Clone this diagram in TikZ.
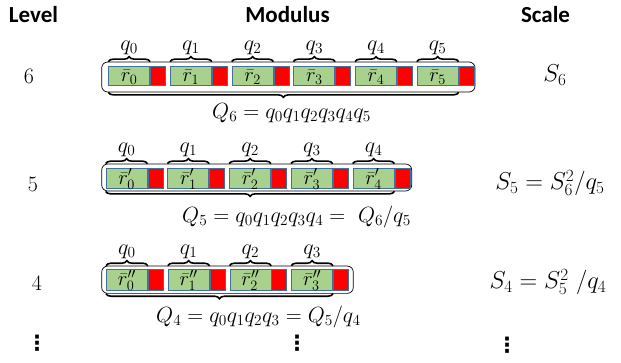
\RequirePackage{fix-cm}
\documentclass[tikz,border=0pt]{standalone}
\usepackage{fontspec}
\newfontfamily\hdrfont{Carlito}
\newfontfamily\symfont{DejaVu Sans}
\usetikzlibrary{decorations.pathreplacing,calc}
\definecolor{cellgreen}{HTML}{A9D18E}
\definecolor{cellblue}{HTML}{41719C}
\definecolor{cellred}{HTML}{FF0000}
\newcommand\dgmfont{\fontsize{22}{26}\selectfont}
\newcommand\cellfnt{\fontsize{20.5}{24}\selectfont}
\newcommand\scalefnt{\fontsize{24.5}{28}\selectfont}
\tikzset{
  greencell/.style={draw=cellblue, line width=0.8pt, fill=cellgreen, minimum width=41pt, inner sep=0pt, anchor=west},
  redcell/.style={draw=cellblue, line width=0.8pt, fill=cellred, minimum width=15pt, inner sep=0pt, anchor=west},
  outerbox/.style={draw=black, line width=0.7pt, rounded corners=6pt, inner sep=0pt},
  bracestyle/.style={decorate, decoration={brace, amplitude=5pt}, line width=1.6pt},
  qlabel/.style={font=\dgmfont, inner sep=0pt, anchor=south},
  celltext/.style={font=\cellfnt, inner sep=0pt},
  mathtext/.style={font=\dgmfont, inner sep=0pt},
  scaletext/.style={font=\scalefnt, inner sep=0pt},
  header/.style={font=\hdrfont\bfseries\fontsize{23}{27}\selectfont, inner sep=0pt},
  dotstack/.style={font=\symfont\bfseries\fontsize{21}{25}\selectfont, inner sep=0pt}
}
\begin{document}
\begin{tikzpicture}[x=1pt,y=-1pt]
\useasboundingbox (0,0) rectangle (621,362);

% headers
\node[header] (hlevel) at (33.5,15) {Level};
\node[header] (hmod) at (287.5,15) {Modulus};
\node[header] (hscale) at (545.5,15) {Scale};

% ---------- level 6 ----------
\node[outerbox, minimum width=373.3pt, minimum height=30pt] (o6) at (288.35,77) {};
\foreach \k in {0,...,5}{
  \node[greencell, minimum height=19pt] (g6\k) at ({108.3+61.7*\k},76) {};
  \node[redcell, minimum height=19pt] (r6\k) at (g6\k.east) {};
  \node[celltext] (t6\k) at ($(g6\k)+(0,1)$) {$\bar{r}_{\k}$};
  \draw[bracestyle] (g6\k.west |- o6.north) -- (g6\k.east |- o6.north);
  \node[qlabel] (q6\k) at ($(g6\k.north |- o6.north)+(0,-7)$) {$q_{\k}$};
}
\draw[bracestyle] (g65.east |- o6.south) -- (g60.west |- o6.south);
\node[mathtext, anchor=west] (Q6) at (212,113) {$Q_6 = q_0q_1q_2q_3q_4q_5$};
\node[mathtext] (l6) at (29,76) {$6$};
\node[scaletext] (s6) at (555,75) {$S_6$};

% ---------- level 5 ----------
\node[outerbox, minimum width=310pt, minimum height=27pt] (o5) at (256.7,177.5) {};
\foreach \k in {0,...,4}{
  \node[greencell, minimum height=20pt] (g5\k) at ({105.7+61.75*\k},178) {};
  \node[redcell, minimum height=20pt] (r5\k) at (g5\k.east) {};
  \node[celltext] (t5\k) at ($(g5\k)+(0,1)$) {$\bar{r}'_{\k}$};
  \draw[bracestyle] (g5\k.west |- o5.north) -- (g5\k.east |- o5.north);
  \node[qlabel] (q5\k) at ($(g5\k.north |- o5.north)+(0,-7)$) {$q_{\k}$};
}
\draw[bracestyle] (g54.east |- o5.south) -- (g50.west |- o5.south);
\node[mathtext, anchor=west] (Q5) at (182,217) {$Q_5 = q_0q_1q_2q_3q_4 =\ Q_6/q_5$};
\node[mathtext] (l5) at (33,184) {$5$};
\node[scaletext] (s5) at (550,183) {$S_5 = S_6^2/q_5$};

% ---------- level 4 ----------
\node[outerbox, minimum width=251.6pt, minimum height=27.3pt] (o4) at (227.5,279.7) {};
\foreach \k in {0,...,3}{
  \node[greencell, minimum height=20.5pt] (g4\k) at ({106+61.75*\k},279.7) {};
  \node[redcell, minimum height=20.5pt] (r4\k) at (g4\k.east) {};
  \node[celltext] (t4\k) at ($(g4\k)+(0,1)$) {$\bar{r}''_{\k}$};
  \draw[bracestyle] (g4\k.west |- o4.north) -- (g4\k.east |- o4.north);
  \node[qlabel] (q4\k) at ($(g4\k.north |- o4.north)+(0,-7)$) {$q_{\k}$};
}
\draw[bracestyle] (g43.east |- o4.south) -- (g40.west |- o4.south);
\node[mathtext, anchor=west] (Q4) at (156,316.5) {$Q_4 = q_0q_1q_2q_3 = Q_5/q_4$};
\node[mathtext] (l4) at (37,283) {$4$};
\node[scaletext] (s4) at (548,282) {$S_4 = S_5^2\ /q_4$};

% dots
\node[dotstack] (d1) at (37,343) {⋮};
\node[dotstack] (d2) at (297,343) {⋮};
\node[dotstack] (d3) at (507,345) {⋮};
\end{tikzpicture}
\end{document}
